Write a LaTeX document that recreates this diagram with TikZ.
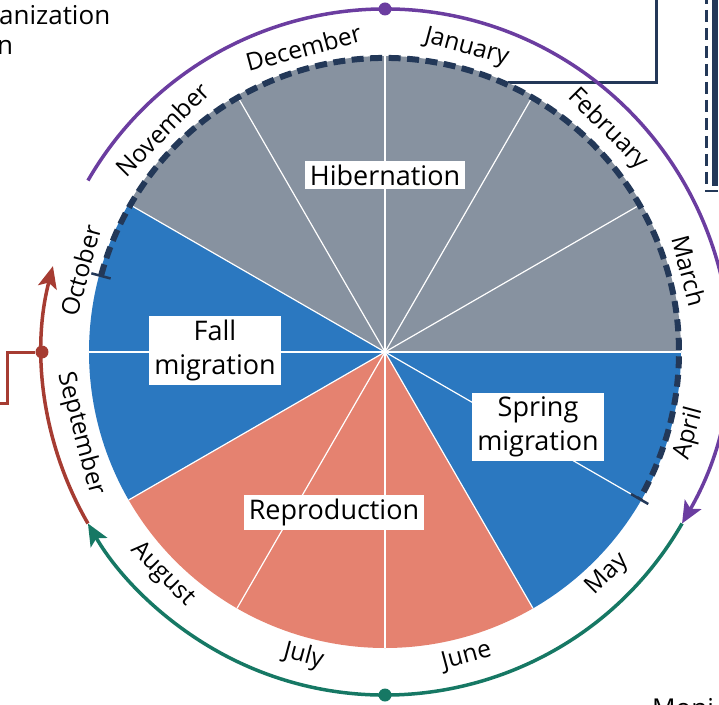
\documentclass[tikz,border=0pt]{standalone}
\usepackage{fontspec}
\setsansfont{Open Sans}
\usetikzlibrary{arrows.meta}
\usetikzlibrary{positioning}
\tikzset{every picture/.style={/utils/exec={\sffamily}}}

\definecolor{hibgray}{RGB}{135,146,160}
\definecolor{migblue}{RGB}{43,120,192}
\definecolor{repsalmon}{RGB}{229,130,112}
\definecolor{navy}{RGB}{35,56,88}
\definecolor{springpurple}{RGB}{107,61,160}
\definecolor{summergreen}{RGB}{22,120,100}
\definecolor{fallred}{RGB}{166,60,50}

\tikzset{x=1pt, y=1pt,
  month/.style={ % month names round the wheel
    font=\fontsize{24.5}{28}\selectfont,
    inner sep=0pt},
  phase/.style={ % white boxes with the season names
    fill=white,
    inner xsep=5pt, inner ysep=4pt,
    align=center,
    font=\fontsize{27}{34}\selectfont},
  divider/.style={white, line width=1.2pt},
  cyclearc/.style={line width=3.5pt,
    -{Stealth[length=22pt,width=19pt,inset=5pt]}},
  dot/.style={circle, inner sep=0pt, minimum size=13pt},
  hibline/.style={navy, line width=6pt, dash pattern=on 12pt off 6.5pt},
  hibtick/.style={navy, line width=2.5pt},
  sidetext/.style={font=\fontsize{26}{30}\selectfont, inner sep=0pt}}

\begin{document}
\begin{tikzpicture}
  \useasboundingbox (-385,-352) rectangle (334,352);
  \clip (-385,-352) rectangle (334,352);

  % pieces of the surrounding figure
  \node [sidetext, anchor=base west] (orgline) at (-386,327) {anization};
  \node [sidetext, anchor=base west] (orgline2) at (-388,297) {n};
  \node [sidetext, anchor=base west] (monitext) at (267,-365) {Moni};

  \coordinate (wintertop) at (271,360);
  \coordinate (winterend) at (123,269);
  \draw [navy, line width=3pt] (wintertop) |- (winterend);

  \coordinate (boxtop) at (321.5,360);
  \coordinate (boxcorner) at (345,161);
  \draw [navy, line width=2.5pt, dash pattern=on 12pt off 6pt] (boxtop) |- (boxcorner);
  \coordinate (bartop) at (330,360);
  \coordinate (barend) at (330,166);
  \draw [navy, line width=6pt] (bartop) -- (barend);

  % the wheel
  \coordinate (center) at (0,0);
  \foreach \start/\col in {90/hibgray, 60/hibgray, 30/hibgray, 0/migblue,
      -30/migblue, -60/repsalmon, -90/repsalmon, -120/repsalmon,
      -150/migblue, -180/migblue, -210/hibgray, -240/hibgray}
    \fill [\col] (center) -- (\start:296) arc [start angle=\start, end angle=\start-30, radius=296] -- cycle;

  \foreach \a in {0,30,...,330}
    \draw [divider] (center) -- (\a:296);

  % hibernation period
  \draw [hibline] (165:294) arc [start angle=165, end angle=-30, radius=294];
  \draw [hibtick] (165:284) -- (165:304);
  \draw [hibtick] (-30:284) -- (-30:304);

  \foreach \month/\ang/\rot in {January/75/-15, February/45/-45, March/15/-75,
      April/-15/75, May/-45/45, June/-75/15, July/-105/-15, August/-135/-45,
      September/-165/-75, October/165/75, November/135/45, December/105/15}
    \node [month, rotate=\rot] (\month) at (\ang:315) {\month};

  \node [phase] (hibernation) at (0,177) {Hibernation};
  \node [phase] (fallmig) at (-170,2) {Fall\\migration};
  \node [phase] (springmig) at (153,-75) {Spring\\migration};
  \node [phase] (reproduction) at (-51,-160) {Reproduction};

  % outer cycle
  \draw [cyclearc, springpurple] (150:343) arc [start angle=150, end angle=-30, radius=343];
  \draw [cyclearc, summergreen] (-30:343) arc [start angle=-30, end angle=-150, radius=343];
  \draw [cyclearc, fallred] (-150:343) arc [start angle=-150, end angle=-194.5, radius=343];

  \node [dot, fill=springpurple] (topdot) at (90:343) {};
  \node [dot, fill=summergreen] (bottomdot) at (-90:343) {};
  \node [dot, fill=fallred] (falldot) at (180:343) {};

  \coordinate (fallbend) at (-377,0);
  \coordinate (fallend) at (-392,-51);
  \draw [fallred, line width=3pt] (falldot) -- (fallbend) |- (fallend);
\end{tikzpicture}
\end{document}
